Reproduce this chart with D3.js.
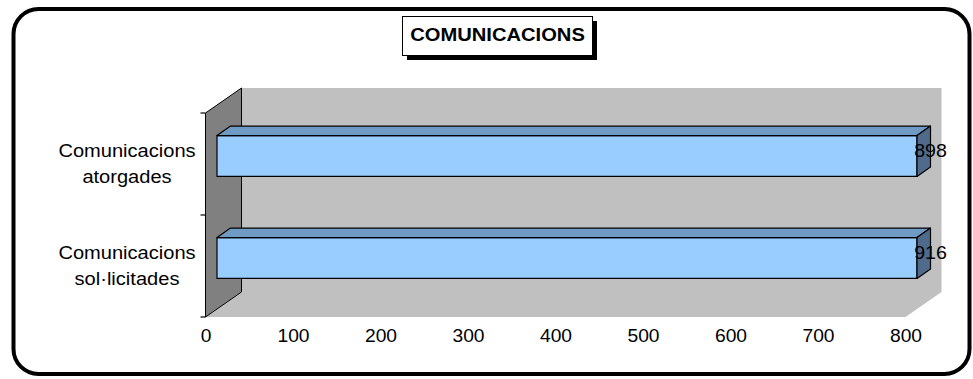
<!DOCTYPE html>
<html>
<head>
<meta charset="utf-8">
<script src="https://cdn.jsdelivr.net/npm/d3@7"></script>
<style>
  html, body { margin: 0; padding: 0; background: #fff; }
  svg { display: block; }
  text { font-family: "Liberation Sans", Arial, sans-serif; fill: #000; }
</style>
</head>
<body>
<svg id="chart" width="973" height="379"></svg>
<script>
// ---- data ----
const title = "COMUNICACIONS";
const categories = ["Comunicacions atorgades", "Comunicacions sol·licitades"]; // top to bottom
const categoryLines = [["Comunicacions", "atorgades"], ["Comunicacions", "sol·licitades"]];
const values = [898, 916];
const axisMax = 800;
const tickValues = [0, 100, 200, 300, 400, 500, 600, 700, 800];

// ---- layout ----
const svg = d3.select("#chart");
const plotLeft = 205.5, plotRight = 905.5, plotTop = 113, plotBottom = 317;
const depthX = 36, depthY = -25;           // 3D depth of the walls
const barOffX = 11.5, barOffY = -8;        // bar front face shift into depth
const barDX = 13.5, barDY = -9.5;          // bar depth

const x = d3.scaleLinear().domain([0, axisMax]).range([plotLeft, plotRight]).clamp(true);
const y = d3.scaleBand().domain(categories).range([plotTop, plotBottom]).padding(0);

// outer rounded border
svg.append("rect")
  .attr("x", 13.5).attr("y", 9).attr("width", 956).attr("height", 365)
  .attr("rx", 25).attr("ry", 25)
  .attr("fill", "#fff").attr("stroke", "#000").attr("stroke-width", 4);

// title box with shadow
const tb = { x: 402, y: 16, w: 190, h: 39 };
svg.append("rect").attr("x", tb.x + 5).attr("y", tb.y + 5).attr("width", tb.w).attr("height", tb.h).attr("fill", "#000");
svg.append("rect").attr("x", tb.x + 0.5).attr("y", tb.y + 0.5).attr("width", tb.w).attr("height", tb.h)
  .attr("fill", "#fff").attr("stroke", "#000").attr("stroke-width", 1);
svg.append("text")
  .attr("transform", `translate(${tb.x + tb.w / 2 + 0.5},40.8) scale(1.12,1)`)
  .attr("text-anchor", "middle").attr("font-size", 18).attr("font-weight", "bold")
  .text(title);

// walls
const x0 = x(0), xM = x(axisMax);
svg.append("rect")  // back wall
  .attr("x", x0 + depthX).attr("y", plotTop + depthY)
  .attr("width", xM - x0).attr("height", plotBottom - plotTop)
  .attr("fill", "#c0c0c0");
svg.append("polygon") // floor
  .attr("points", [[x0, plotBottom], [x0 + depthX, plotBottom + depthY], [xM + depthX, plotBottom + depthY], [xM, plotBottom]].join(" "))
  .attr("fill", "#c0c0c0");
svg.append("polygon") // side wall
  .attr("points", [[x0, plotTop], [x0 + depthX, plotTop + depthY], [x0 + depthX, plotBottom + depthY], [x0, plotBottom]].join(" "))
  .attr("fill", "#808080").attr("stroke", "#000").attr("stroke-width", 1);

// bars
const bars = svg.append("g");
categories.forEach((c, i) => {
  const bh = y.bandwidth() * 0.4;
  const fy = y(c) + (y.bandwidth() - bh) / 2 + barOffY;
  const fx0 = x(0) + barOffX, fx1 = x(values[i]) + barOffX;
  const g = bars.append("g").attr("stroke", "#000").attr("stroke-width", 1.2).attr("stroke-linejoin", "round");
  g.append("rect").attr("x", fx0).attr("y", fy).attr("width", fx1 - fx0).attr("height", bh).attr("fill", "#99ccff");
  g.append("polygon").attr("points", [[fx0, fy], [fx0 + barDX, fy + barDY], [fx1 + barDX, fy + barDY], [fx1, fy]].join(" "))
    .attr("fill", "#6f9ac3");
  g.append("polygon").attr("points", [[fx1, fy], [fx1 + barDX, fy + barDY], [fx1 + barDX, fy + bh + barDY], [fx1, fy + bh]].join(" "))
    .attr("fill", "#4f6a8b");
  // value label
  svg.append("text")
    .attr("transform", `translate(${fx1 + barDX},${fy + bh / 2 + 0.5}) scale(1.06,1)`)
    .attr("text-anchor", "middle").attr("font-size", 18.5)
    .text(values[i]);
});

// category axis ticks (band boundaries)
const bounds = categories.map(c => y(c)).concat([plotBottom]);
svg.append("g").selectAll("line").data(bounds).join("line")
  .attr("x1", x0 - 5).attr("x2", x0).attr("y1", d => d).attr("y2", d => d)
  .attr("stroke", "#000").attr("stroke-width", 1.2);

// category labels
categories.forEach((c, i) => {
  const cy = y(c) + y.bandwidth() / 2;
  const t = svg.append("text")
    .attr("transform", `translate(127,${cy - 7.5}) scale(1.085,1)`)
    .attr("text-anchor", "middle").attr("font-size", 18.5);
  categoryLines[i].forEach((ln, j) => {
    t.append("tspan").attr("x", 0).attr("y", j * 26.5).text(ln);
  });
});

// value axis labels
const xAxis = d3.axisBottom(x).tickValues(tickValues).tickSize(0).tickPadding(0).tickFormat(d3.format("d"));
const ax = svg.append("g").attr("transform", `translate(0,${plotBottom})`).call(xAxis);
ax.select(".domain").remove();
ax.selectAll("text")
  .attr("font-family", "Liberation Sans, Arial, sans-serif").attr("font-size", 18.5).attr("fill", "#000")
  .attr("dy", null).attr("y", 25)
  .attr("transform", "scale(1.04,1)");
</script>
</body>
</html>
